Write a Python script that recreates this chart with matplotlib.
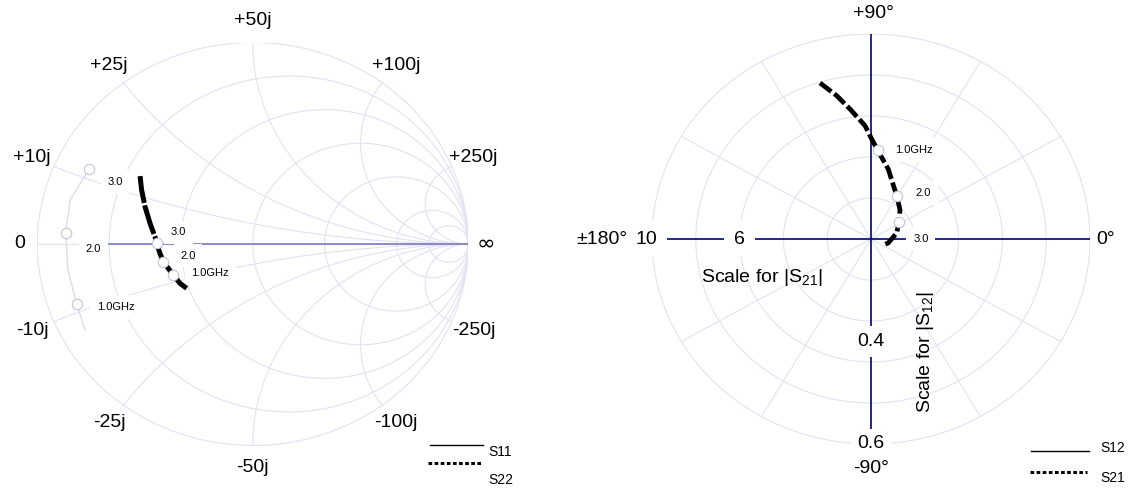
import numpy as np
import matplotlib.pyplot as plt

plt.rcParams['font.family'] = ['Liberation Sans', 'DejaVu Sans']
plt.rcParams['mathtext.fontset'] = 'custom'
plt.rcParams['mathtext.rm'] = 'Liberation Sans'
plt.rcParams['mathtext.it'] = 'Liberation Sans:italic'

# --- datos ---
Z0 = 50
r_ohm = [10, 25, 50, 100, 250, 500]        # circulos de resistencia
x_ohm = [10, 25, 50, 100, 250]             # arcos de reactancia

# S11 y S22 como coeficiente de reflexion (re, im)
f_s11 = [0.75, 1.0, 1.5, 2.0, 2.5, 3.0]
s11_re = [-0.779, -0.817, -0.858, -0.868, -0.848, -0.759]
s11_im = [-0.427, -0.298, -0.129, 0.053, 0.218, 0.372]

f_s22 = [0.5, 0.75, 1.0, 1.5, 2.0, 2.5, 3.0, 3.5, 4.0, 4.5, 5.0, 5.5]
s22_re = [-0.307, -0.338, -0.369, -0.392, -0.415, -0.431, -0.446, -0.454,
          -0.477, -0.500, -0.516, -0.523]
s22_im = [-0.220, -0.195, -0.154, -0.121, -0.088, -0.046, 0.003, 0.036,
          0.103, 0.185, 0.268, 0.337]

# S21 en polar (magnitud, angulo en grados)
f_s21 = [0.5, 0.6, 0.7, 0.85, 0.95, 1.0, 1.4, 2.0, 2.5, 3.0, 3.3, 3.6, 3.8]
s21_mag = [7.96, 7.16, 6.41, 5.53, 4.87, 4.35, 3.49, 2.40, 1.95, 1.53, 1.21, 0.81, 0.66]
s21_ang = [107.0, 102.6, 98.6, 92.8, 89.6, 86.0, 76.9, 60.6, 47.3, 33.1, 14.1, -13.9, -24.8]

mark_f = [1.0, 2.0, 3.0]
mark_txt = ['1.0GHz', '2.0', '3.0']

s21_ticks = [10, 6]
s12_ticks = [0.4, 0.6]

grid_c = '#e2e2f2'
box = dict(boxstyle='square,pad=0.5', fc='white', ec='none')
small_box = dict(boxstyle='square,pad=0.6', fc='white', ec='none')

fig = plt.figure(figsize=(11.39, 4.91), dpi=100)

# --- 1. Carta de Smith ---
ax1 = fig.add_axes([37.3 / 1139, 45.5 / 491, 431 / 1139, 403 / 491])
ax1.set_xlim(-1, 1)
ax1.set_ylim(-1, 1)
ax1.axis('off')

t = np.linspace(0, 2 * np.pi, 500)
ax1.plot(np.cos(t), np.sin(t), color=grid_c, lw=0.8, zorder=1)
for R in r_ohm:
    r = R / Z0
    c, rad = r / (r + 1), 1 / (r + 1)
    ax1.plot(c + rad * np.cos(t), rad * np.sin(t), color=grid_c, lw=0.8, zorder=1)

rr = np.concatenate([[0], np.logspace(-3, 4, 600)])
for X in x_ohm:
    for s in (1, -1):
        g = (rr + 1j * s * X / Z0 - 1) / (rr + 1j * s * X / Z0 + 1)
        ax1.plot(g.real, g.imag, color=grid_c, lw=0.8, zorder=1)

ax1.plot([-1, 1], [0, 0], color=grid_c, lw=0.9, zorder=1)
ax1.plot([-2 / 3, 1], [0, 0], color='#7070c0', lw=1.1, zorder=1)

# etiquetas de reactancia
for X in x_ohm:
    for s, sign in ((1, '+'), (-1, '-')):
        g = (1j * s * X / Z0 - 1) / (1j * s * X / Z0 + 1)
        ax1.text(1.11 * g.real, 1.11 * g.imag, f'{sign}{X}j', fontsize=14,
                 ha='center', va='center', clip_on=False)
ax1.text(-1.08, 0, '0', fontsize=14, ha='center', va='center')
ax1.text(1.08, 0, '∞', fontsize=16, ha='center', va='center', family='DejaVu Sans')

ax1.plot(s11_re, s11_im, color='#d8d8ea', lw=0.9, zorder=2)
ax1.plot(s22_re, s22_im, color='black', lw=3.6, ls=(0, (6, 0.5)), zorder=4)

s11_off = {'1.0GHz': (20, -3), '2.0': (20, -16), '3.0': (18, -13)}
s22_off = {'1.0GHz': (18, 2), '2.0': (17, 6), '3.0': (14, 11)}
for f, txt in zip(mark_f, mark_txt):
    for fs, re_, im_, off in ((f_s11, s11_re, s11_im, s11_off),
                             (f_s22, s22_re, s22_im, s22_off)):
        i = fs.index(f)
        ax1.plot(re_[i], im_[i], 'o', ms=7.5, mfc='white', mec='#c4c4d4', mew=0.8, zorder=5)
        ax1.annotate(txt, (re_[i], im_[i]), xytext=(off[txt][0] * 0.72, off[txt][1] * 0.72),
                     textcoords='offset points', fontsize=8, ha='left', va='center',
                     bbox=small_box, zorder=3)

# --- 2. Diagrama polar ---
ax2 = fig.add_axes([652 / 1139, 47 / 491, 438 / 1139, 410 / 491])
ax2.set_xlim(-1, 1)
ax2.set_ylim(-1, 1)
ax2.axis('off')

for rc in [0.2, 0.4, 0.6, 0.8, 1.0]:
    ax2.plot(rc * np.cos(t), rc * np.sin(t), color=grid_c, lw=0.8, zorder=1)
for a in range(30, 360, 30):
    if a % 90:
        ax2.plot([0, np.cos(np.radians(a))], [0, np.sin(np.radians(a))],
                 color=grid_c, lw=0.8, zorder=1)
for a in range(0, 360, 90):
    ax2.plot([0, np.cos(np.radians(a))], [0, np.sin(np.radians(a))],
             color='#000080', lw=1.2, zorder=2)

ax2.text(0.01, 1.1, '+90°', fontsize=14, ha='center', va='center')
ax2.text(0, -1.12, '-90°', fontsize=14, ha='center', va='center', zorder=5)
ax2.text(1.03, 0, '0°', fontsize=14, ha='left', va='center')
ax2.text(-1.11, 0, '±180°', fontsize=14, ha='right', va='center')
for v in s21_ticks:
    # la etiqueta del borde exterior queda pegada a "±180°"
    dx = -4 if v == max(s21_ticks) else 0
    ax2.annotate(str(v), (-v / 10, 0), xytext=(dx, 0), textcoords='offset points',
                 fontsize=14, ha='center', va='center', bbox=box, zorder=3)
for v in s12_ticks:
    ax2.text(0, -(v - 0.2) / 0.4, str(v), fontsize=14, ha='center', va='center',
             bbox=dict(boxstyle='square,pad=0.35', fc='white', ec='none'), zorder=3)
ax2.text(-0.50, -0.19, r'Scale for |S$_{21}$|', fontsize=14, ha='center', va='center')
ax2.text(0.25, -0.55, r'Scale for |S$_{12}$|', fontsize=14, ha='center', va='center',
         rotation=90)

ang = np.radians(s21_ang)
s21_x = np.array(s21_mag) / 10 * np.cos(ang)
s21_y = np.array(s21_mag) / 10 * np.sin(ang)
ax2.plot(s21_x, s21_y, color='black', lw=3.4, ls=(0, (3, 0.8)), zorder=4)

s21_off = {'1.0GHz': (17, 0), '2.0': (19, 3), '3.0': (14, -17)}
for f, txt in zip(mark_f, mark_txt):
    i = f_s21.index(f)
    ax2.plot(s21_x[i], s21_y[i], 'o', ms=7.5, mfc='white', mec='#c4c4d4', mew=0.8, zorder=5)
    ax2.annotate(txt, (s21_x[i], s21_y[i]),
                 xytext=(s21_off[txt][0] * 0.72, s21_off[txt][1] * 0.72),
                 textcoords='offset points', fontsize=8, ha='left', va='center',
                 bbox=small_box, zorder=3)

# --- 3. Leyendas ---
ov = fig.add_axes([0, 0, 1, 1])
ov.set_xlim(0, 1139)
ov.set_ylim(491, 0)
ov.axis('off')
ov.plot([430, 483], [445, 445], color='black', lw=1)
ov.plot([428, 482], [463, 463], color='black', lw=2.2, ls=(0, (1.2, 0.8)))
ov.text(488, 452, 'S11', fontsize=10, va='center')
ov.text(488, 480, 'S22', fontsize=10, va='center')
ov.plot([1031, 1089], [451, 451], color='black', lw=1)
ov.plot([1030, 1087], [472, 472], color='black', lw=2.2, ls=(0, (1.2, 0.8)))
ov.text(1100, 448, 'S12', fontsize=10, va='center')
ov.text(1100, 478, 'S21', fontsize=10, va='center')

fig.savefig('out.png', dpi=100)
